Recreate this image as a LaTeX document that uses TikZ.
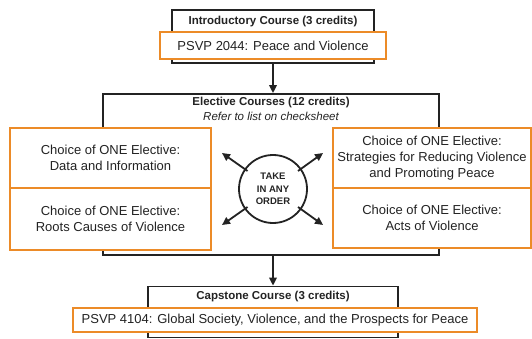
\documentclass[tikz,border=0pt]{standalone}
\usepackage{fontspec}
\setmainfont{Liberation Sans}
\usetikzlibrary{arrows.meta,calc}
\definecolor{vtorange}{RGB}{236,139,40}
\definecolor{ink}{RGB}{35,35,35}
\begin{document}
\begin{tikzpicture}[x=1pt,y=-1pt,
  blackbox/.style={draw=ink,line width=1.8pt,fill=white,inner sep=0pt},
  orangebox/.style={draw=vtorange,line width=2.8pt,fill=white,inner sep=0pt,align=center,font=\fontsize{13}{16}\selectfont,text=ink},
  titletext/.style={font=\bfseries\fontsize{11.5}{14}\selectfont,text=ink,inner sep=0pt},
  subtext/.style={font=\itshape\fontsize{11.5}{14}\selectfont,text=ink,inner sep=0pt},
  arr/.style={draw=ink,line width=1.8pt,-{Triangle[length=8pt,width=7.5pt]}}]
\useasboundingbox (0,0) rectangle (532,339);
% introductory
\node[blackbox,minimum width=202pt,minimum height=53pt] (introbox) at (273,36.5) {};
\node[titletext] (introtitle) at (273,22) {Introductory Course (3 credits)};
\node[orangebox,minimum width=226pt,minimum height=27pt] (introcourse) at (273,45.5) {PSVP 2044: Peace and Violence};
% electives
\node[blackbox,minimum width=336pt,minimum height=161pt] (electbox) at (271,174.5) {};
\node[titletext] (electtitle) at (271,103) {Elective Courses (12 credits)};
\node[subtext] (electsub) at (271,116) {Refer to list on checksheet};
\node[orangebox,minimum width=201pt,minimum height=60pt] (L1) at (110.5,158) {Choice of ONE Elective:\\Data and Information};
\node[orangebox,minimum width=201pt,minimum height=62pt] (L2) at (110.5,219) {Choice of ONE Elective:\\Roots Causes of Violence};
\node[orangebox,minimum width=198pt,minimum height=60pt] (R1) at (432,158) {Choice of ONE Elective:\\Strategies for Reducing Violence\\and Promoting Peace};
\node[orangebox,minimum width=198pt,minimum height=60pt] (R2) at (432,218) {Choice of ONE Elective:\\Acts of Violence};
\node[circle,draw=ink,line width=1.8pt,minimum size=68pt,inner sep=0pt,align=center,text=ink,font=\bfseries\fontsize{9.5}{12.5}\selectfont] (circ) at (273,189) {TAKE\\IN ANY\\ORDER};
\coordinate (tl) at (222,153);
\coordinate (tr) at (323,153);
\coordinate (bl) at (222,225);
\coordinate (br) at (323,225);
\draw[arr] ($(circ.center)!0.5!(tl)$) -- (tl);
\draw[arr] ($(circ.center)!0.5!(tr)$) -- (tr);
\draw[arr] ($(circ.center)!0.5!(bl)$) -- (bl);
\draw[arr] ($(circ.center)!0.5!(br)$) -- (br);
% capstone
\node[blackbox,minimum width=250pt,minimum height=51pt] (capbox) at (273,312) {};
\node[titletext] (captitle) at (273,297) {Capstone Course (3 credits)};
\node[orangebox,minimum width=404pt,minimum height=24pt] (capcourse) at (275,320) {PSVP 4104: Global Society, Violence, and the Prospects for Peace};
% flow arrows
\draw[arr] (introbox.south) -- (introbox.south |- electbox.north);
\draw[arr] (capbox.north |- electbox.south) -- (capbox.north);
\end{tikzpicture}
\end{document}
